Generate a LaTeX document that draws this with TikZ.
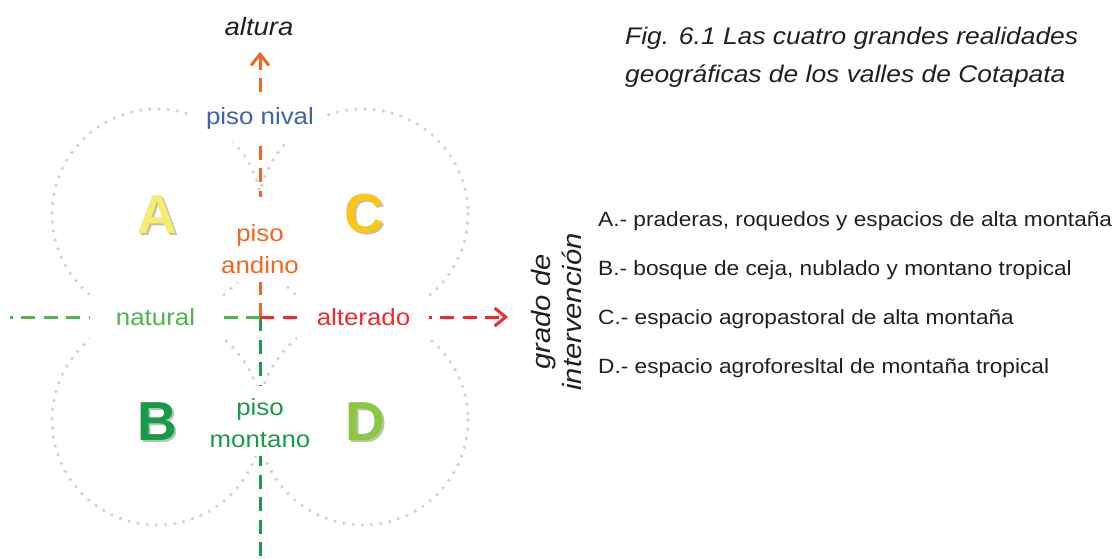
\documentclass[tikz,border=0pt]{standalone}
\usepackage{fontspec}
\setmainfont{Liberation Sans}[FakeStretch=1.1]
\newfontfamily\letterfont{Liberation Sans}
\usetikzlibrary{arrows.meta}
\definecolor{dotgray}{HTML}{D2D2D2}
\definecolor{orangeC}{HTML}{F26522}
\definecolor{blueC}{HTML}{3C64AF}
\definecolor{natC}{HTML}{4DB74A}
\definecolor{redC}{HTML}{EE2B2C}
\definecolor{monC}{HTML}{1A9B4B}
\definecolor{letA}{HTML}{F5EE6C}
\definecolor{letC}{HTML}{FEC70F}
\definecolor{letB}{HTML}{179B48}
\definecolor{letD}{HTML}{8DC63F}
\definecolor{shadowC}{HTML}{BEBEBE}
\definecolor{inkC}{HTML}{231F20}
\tikzset{
  dotcirc/.style={draw=dotgray, line width=3.7pt, line cap=round, dash pattern=on 0pt off 9.2pt},
  axline/.style={line width=3pt, dash pattern=on 14pt off 8.5pt},
  axtip/.style={-{Straight Barb[length=11pt,width=18pt]}},
  whitemask/.style={fill=white},
  lbl/.style={inner sep=0pt, font=\fontsize{23.5}{32}\selectfont, align=center},
  bigletter/.style={inner sep=0pt, font=\letterfont\bfseries\fontsize{55}{55}\selectfont},
  lshadow/.style={bigletter, text=shadowC},
  listitem/.style={inner sep=0pt, anchor=base west, text=inkC, font=\fontsize{20.6}{24}\selectfont},
}
\begin{document}
\begin{tikzpicture}[x=1pt,y=-1pt]
\useasboundingbox (0,0) rectangle (1114,558);
\fill[white] (0,0) rectangle (1114,558);
% dotted circles
\draw[dotcirc] (157,214) circle[radius=105];
\draw[dotcirc] (363,214) circle[radius=105];
\draw[dotcirc] (157,420) circle[radius=105];
\draw[dotcirc] (363,420) circle[radius=105];
% axes
\coordinate (O) at (260,317);
\coordinate (T) at (260,52);
\coordinate (Bt) at (260,562);
\coordinate (L) at (10,317);
\coordinate (R) at (508,317);
\draw[axline, orangeC, axtip] (O) -- (T);
\draw[axline, monC] (O) -- (Bt);
\draw[axline, natC] (O) -- (L);
\draw[axline, redC, axtip] (O) -- (R);
% masks behind labels
\fill[whitemask] (193,96) rectangle (327,142);
\fill[whitemask] (218,197) rectangle (302,282);
\fill[whitemask] (90,294) rectangle (222,340);
\fill[whitemask] (297,294) rectangle (429,340);
\fill[whitemask] (205,386) rectangle (315,456);
% labels
\node[lbl, text=blueC, anchor=base] (nival) at (260,124) {piso nival};
\node[lbl, text=orangeC] (andino) at (260,249) {piso\\andino};
\node[lbl, text=natC, anchor=base] (natural) at (155.5,325) {natural};
\node[lbl, text=redC, anchor=base] (alterado) at (363.5,325) {alterado};
\node[lbl, text=monC] (montano) at (260,423) {piso\\montano};
\node[inner sep=0pt, text=inkC, font=\itshape\fontsize{25}{30}\selectfont, anchor=base] (altura) at (259,35) {altura};
% letters
\node[lshadow] (Ash) at (159,217) {A};
\node[bigletter, text=letA] (A) at (157,215) {A};
\node[lshadow] (Csh) at (366,216) {C};
\node[bigletter, text=letC] (C) at (364,214) {C};
\node[lshadow] (Bsh) at (159,424) {B};
\node[bigletter, text=letB] (B) at (157,422) {B};
\node[lshadow] (Dsh) at (367,424) {D};
\node[bigletter, text=letD] (D) at (365,422) {D};
% title
\node[inner sep=0pt, anchor=north west, align=left, text=inkC, font=\itshape\fontsize{24}{38}\selectfont] (title) at (625,26.5) {Fig. 6.1 Las cuatro grandes realidades\\geográficas de los valles de Cotapata};
% rotated axis label
\node[inner sep=0pt, rotate=90, align=center, text=inkC, font=\itshape\fontsize{26.5}{31}\selectfont] (grado) at (557,312) {grado de\\intervención};
% legend
\node[listitem] (la) at (598,226) {A.- praderas, roquedos y espacios de alta montaña};
\node[listitem] (lb) at (598,275) {B.- bosque de ceja, nublado y montano tropical};
\node[listitem] (lc) at (598,324) {C.- espacio agropastoral de alta montaña};
\node[listitem] (ld) at (598,373) {D.- espacio agroforesltal de montaña tropical};
\end{tikzpicture}
\end{document}
